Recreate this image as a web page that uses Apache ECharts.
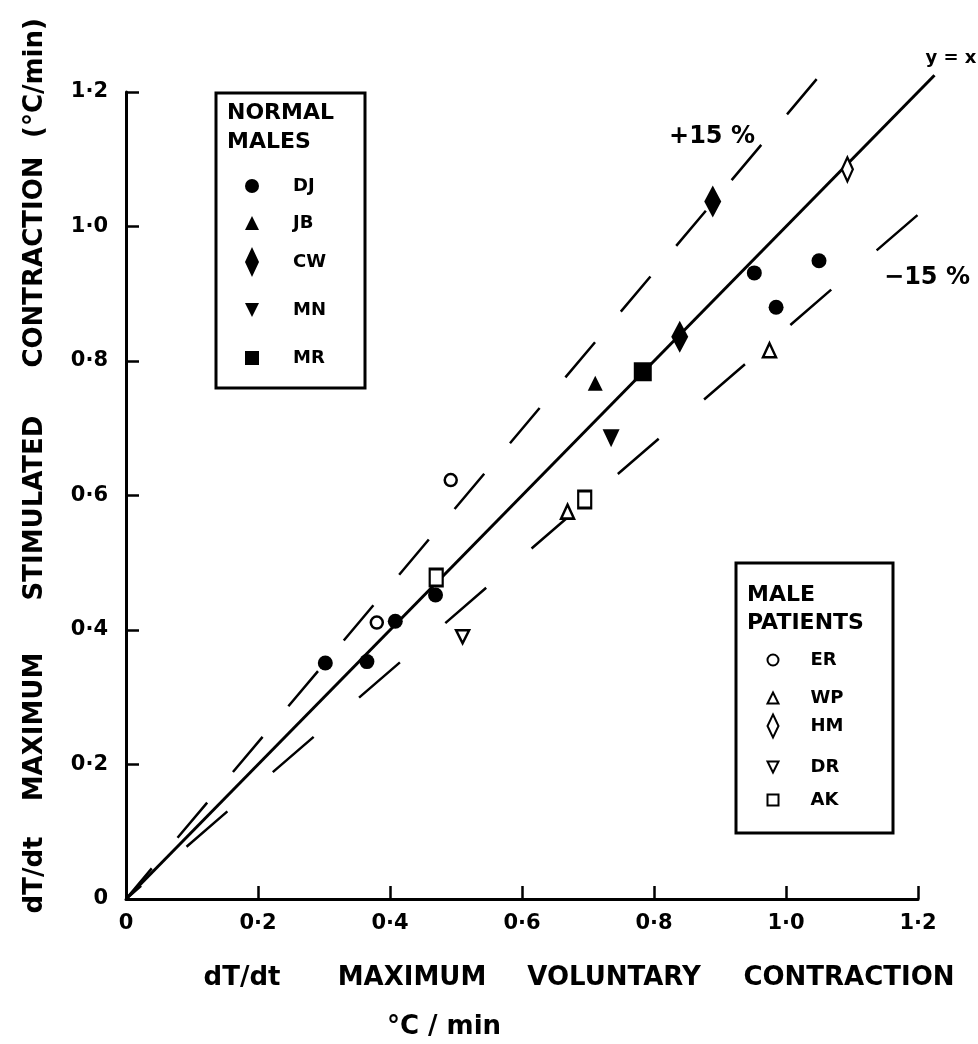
<!DOCTYPE html>
<html>
<head>
<meta charset="utf-8">
<script src="https://cdn.jsdelivr.net/npm/echarts@6/dist/echarts.min.js"></script>
<style>
html,body{margin:0;padding:0;background:#fff;}
#chart{width:978px;height:1044px;}
</style>
</head>
<body>
<div id="chart"></div>
<script>
// ---- data ----
const tickLabels = ['0', '0·2', '0·4', '0·6', '0·8', '1·0', '1·2'];

// Normal males (filled symbols)
const DJ = [[0.302, 0.351], [0.365, 0.353], [0.408, 0.413], [0.469, 0.452], [0.952, 0.931], [0.985, 0.880], [1.050, 0.949]];
const JB = [[0.711, 0.767]];
const CW = [[0.839, 0.836], [0.889, 1.037]];
const MN = [[0.735, 0.685]];
const MR = [[0.783, 0.784]];

// Male patients (open symbols)
const ER = [[0.380, 0.411], [0.492, 0.623]];
const WP = [[0.669, 0.576], [0.975, 0.816]];
const HM = [[1.093, 1.085]];
const DR = [[0.510, 0.390]];
const AK = [[0.470, 0.478], [0.695, 0.594]];

// reference lines: y = x and +/-15 % bands
const identityEnd = 1.225;
const upperFactor = 1.165;
const upperEnd = 1.048;
const lowerFactor = 0.848;
const lowerEnd = 1.2;

const normalNames = ['DJ', 'JB', 'CW', 'MN', 'MR'];
const patientNames = ['ER', 'WP', 'HM', 'DR', 'AK'];

// ---- chart ----
const FONT = 'DejaVu Sans';
const UP_TRI = 'path://M5,0 L10,10 L0,10 Z';
const DOWN_TRI = 'path://M0,0 L10,0 L5,10 Z';
const SQUARE = 'path://M0,0 L10,0 L10,10 L0,10 Z';

function filled(name, data, symbol, size) {
  return {
    name, type: 'scatter', data, symbol, symbolSize: size, symbolKeepAspect: false,
    itemStyle: { color: '#000', borderWidth: 0, opacity: 1 }, z: 4, silent: true
  };
}
function open(name, data, symbol, size) {
  return {
    name, type: 'scatter', data, symbol, symbolSize: size, symbolKeepAspect: false,
    itemStyle: { color: '#fff', borderColor: '#000', borderWidth: 2.5, opacity: 1 }, z: 5, silent: true
  };
}
function refLine(name, pts, type, width, offset) {
  return {
    name, type: 'line', data: pts, symbol: 'none', clip: false, silent: true, z: 3,
    xAxisIndex: 1, yAxisIndex: 1,
    lineStyle: { color: '#000', width, type, dashOffset: offset },
    animation: false
  };
}

const series = [
  refLine('y = x', [[0, 0], [identityEnd, identityEnd]], 'solid', 3, 0),
  refLine('+15%', [[0, 0], [upperEnd, upperEnd * upperFactor]], [46, 40], 2.5, 6),
  refLine('-15%', [[0, 0], [lowerEnd, lowerEnd * lowerFactor]], [54, 60], 2.5, 34),
  filled('DJ', DJ, 'circle', 15),
  filled('JB', JB, UP_TRI, [15, 15]),
  filled('CW', CW, 'diamond', [17, 32]),
  filled('MN', MN, DOWN_TRI, [17, 18]),
  filled('MR', MR, SQUARE, [18, 19]),
  open('ER', ER, 'circle', 12),
  open('WP', WP, UP_TRI, [13, 14]),
  open('HM', HM, 'diamond', [11, 24]),
  open('DR', DR, DOWN_TRI, [13, 13]),
  open('AK', AK, SQUARE, [13, 17])
];

const axisCommon = {
  type: 'value', min: 0, max: 1.2, interval: 0.2,
  axisLine: { show: true, lineStyle: { color: '#000', width: 3 } },
  axisTick: { show: true, inside: true, length: 13, lineStyle: { color: '#000', width: 2.5 } },
  splitLine: { show: false },
  axisLabel: {
    color: '#000', fontFamily: FONT, fontWeight: 'bold', fontSize: 21,
    formatter: v => tickLabels[Math.round(v / 0.2)]
  }
};
// hidden helper axes (same scale, a little longer) so the reference lines may run past 1.2
const helperAxis = { type: 'value', min: 0, max: 1.25, show: false, gridIndex: 1 };

function txt(text, x, y, size, rot) {
  return {
    type: 'text', x, y, rotation: rot || 0,
    style: { text, fill: '#000', font: `bold ${size}px "${FONT}"`, align: 'center', verticalAlign: 'middle' },
    z: 10
  };
}
function ltxt(text, x, y) {
  return { type: 'text', x, y, style: { text, fill: '#000', font: `bold 22px "${FONT}"`, verticalAlign: 'middle' }, z: 10 };
}

const graphics = [
  // legend boxes
  { type: 'rect', shape: { x: 216, y: 93, width: 149, height: 295 }, style: { fill: 'none', stroke: '#000', lineWidth: 3 }, z: 1 },
  { type: 'rect', shape: { x: 736, y: 563, width: 157, height: 270 }, style: { fill: '#fff', stroke: '#000', lineWidth: 3 }, z: 1 },
  ltxt('NORMAL', 227, 113),
  ltxt('MALES', 227, 142),
  ltxt('MALE', 747, 595),
  ltxt('PATIENTS', 747, 623),
  // annotations
  txt('y = x', 951, 58, 18),
  txt('+15 %', 712, 137, 24),
  txt('−15 %', 927, 278, 24),
  // x axis title
  txt('dT/dt', 242, 978, 26),
  txt('MAXIMUM', 412, 978, 26),
  txt('VOLUNTARY', 614, 978, 26),
  txt('CONTRACTION', 849, 978, 26),
  txt('°C / min', 444, 1027, 26),
  // y axis title (rotated)
  txt('dT/dt', 35, 875, 26, Math.PI / 2),
  txt('MAXIMUM', 35, 727, 26, Math.PI / 2),
  txt('STIMULATED', 35, 508, 26, Math.PI / 2),
  txt('CONTRACTION', 35, 262, 26, Math.PI / 2),
  txt('(°C/min)', 35, 78, 26, Math.PI / 2)
];

// one legend per entry so each row sits where it does in the figure
const normalRowY = [186, 223, 262, 310, 358];
const patientRowY = [660, 698, 725, 767, 800];
function legendRow(name, cx, cy, w, h, pad) {
  return {
    data: [name], orient: 'vertical', left: cx - w / 2, top: cy - h / 2, padding: 0,
    itemWidth: w, itemHeight: h, symbolKeepAspect: true, selectedMode: false,
    textStyle: { color: '#000', fontFamily: FONT, fontWeight: 'bold', fontSize: 18, lineHeight: h, padding: [0, 0, 0, pad] }
  };
}
const legends = normalNames.map((n, i) => legendRow(n, 252, normalRowY[i], 14, 30, 29))
  .concat(patientNames.map((n, i) => legendRow(n, 772, patientRowY[i], 11, 23, 27)));

const option = {
  animation: false,
  backgroundColor: '#fff',
  grid: [
    { left: 126, right: 60, top: 92, bottom: 145, containLabel: false },
    { left: 126, right: 27, top: 58.375, bottom: 145, containLabel: false }
  ],
  xAxis: [
    Object.assign({}, axisCommon, { gridIndex: 0, axisLabel: Object.assign({}, axisCommon.axisLabel, { margin: 14 }) }),
    helperAxis
  ],
  yAxis: [
    Object.assign({}, axisCommon, { gridIndex: 0, axisLabel: Object.assign({}, axisCommon.axisLabel, { margin: 18 }) }),
    helperAxis
  ],
  legend: legends,
  graphic: graphics,
  series
};

const chart = echarts.init(document.getElementById('chart'), null, { renderer: 'canvas' });
chart.setOption(option);
</script>
</body>
</html>
